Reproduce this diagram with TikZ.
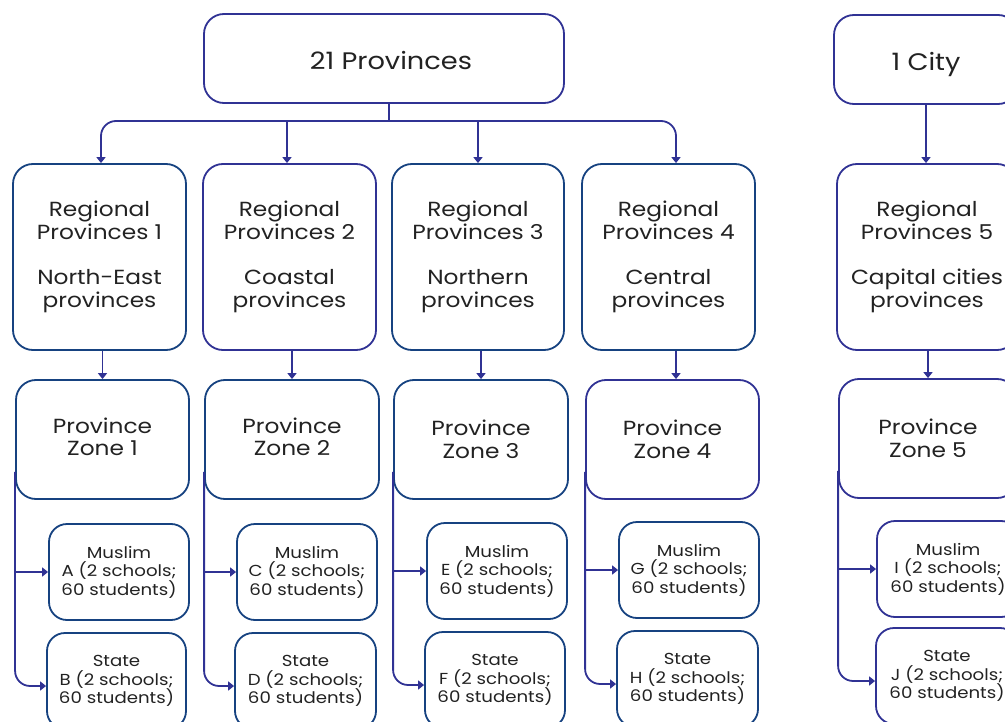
\documentclass[tikz,border=0pt]{standalone}
\usepackage{fontspec}
\setmainfont{Poppins}[FakeStretch=1.14]
\usetikzlibrary{arrows.meta}
\definecolor{navy}{RGB}{22,66,128}
\definecolor{indig}{RGB}{48,50,148}
\definecolor{txt}{RGB}{34,34,34}
\begin{document}
\begin{tikzpicture}[x=1bp,y=-1bp,
  box/.style={draw=navy, line width=1.8bp, rounded corners=20bp, align=center, text=txt, inner sep=0pt},
  pbox/.style={box, draw=indig},
  big/.style={font=\fontsize{24}{28}\selectfont},
  mid/.style={font=\fontsize{20.5}{23}\selectfont},
  small/.style={font=\fontsize{16}{18.5}\selectfont, rounded corners=18bp},
  conn/.style={draw=indig, line width=1.8bp},
  arr/.style={conn, -{Triangle[length=6bp,width=9bp]}},
  elbow/.style={rounded corners=15bp}]
\useasboundingbox (0,0) rectangle (1005,722);
\clip (0,0) rectangle (1005,722);
% top level
\node[pbox, big, minimum width=360bp, minimum height=89bp, text height=22bp, text depth=0bp] (top) at (384,58.5) {\hspace{14bp}21 Provinces};
\node[pbox, big, minimum width=184bp, minimum height=89bp, text height=22bp, text depth=0bp] (city) at (926,59.5) {1 City};
% regional
\node[box, mid, minimum width=173bp, minimum height=186bp] (r1) at (99.5,257) {Regional\\Provinces 1\\[22bp]North-East\\provinces};
\node[pbox, mid, minimum width=173bp, minimum height=186bp] (r2) at (289.5,257) {Regional\\Provinces 2\\[22bp]Coastal\\provinces};
\node[box, mid, minimum width=172bp, minimum height=186bp] (r3) at (478,257) {Regional\\Provinces 3\\[22bp]Northern\\provinces};
\node[box, mid, minimum width=173bp, minimum height=186bp] (r4) at (668.5,257) {Regional\\Provinces 4\\[22bp]Central\\provinces};
\node[pbox, mid, minimum width=180bp, minimum height=186bp] (r5) at (927,257) {Regional\\Provinces 5\\[22bp]Capital cities\\provinces};
% zones
\node[box, mid, minimum width=173bp, minimum height=119bp] (z1) at (102.5,439.5) {\raisebox{2bp}{\begin{tabular}{@{}c@{}}Province\\[-1bp]Zone 1\end{tabular}}};
\node[box, mid, minimum width=174bp, minimum height=119bp] (z2) at (292,439.5) {\raisebox{2bp}{\begin{tabular}{@{}c@{}}Province\\[-1bp]Zone 2\end{tabular}}};
\node[box, mid, minimum width=174bp, minimum height=119bp] (z3) at (481,439.5) {Province\\Zone 3};
\node[pbox, mid, minimum width=173bp, minimum height=119bp] (z4) at (672.5,439.5) {Province\\Zone 4};
\node[pbox, mid, minimum width=178bp, minimum height=119bp] (z5) at (928,438.5) {Province\\Zone 5};
% schools
\node[box, small, minimum width=140bp, minimum height=96bp] (mA) at (119,572) {Muslim\\A (2 schools;\\60 students)};
\node[box, small, minimum width=140bp, minimum height=96bp] (mC) at (307,572) {Muslim\\C (2 schools;\\60 students)};
\node[box, small, minimum width=140bp, minimum height=96bp] (mE) at (497,571) {Muslim\\E (2 schools;\\60 students)};
\node[box, small, minimum width=140bp, minimum height=96bp] (mG) at (689,570) {Muslim\\G (2 schools;\\60 students)};
\node[pbox, small, minimum width=142bp, minimum height=96bp] (mI) at (948,569) {Muslim\\I (2 schools;\\60 students)};
\node[box, small, minimum width=139bp, minimum height=96bp] (sB) at (116.5,681) {State\\B (2 schools;\\60 students)};
\node[box, small, minimum width=141bp, minimum height=96bp] (sD) at (305.5,681) {State\\D (2 schools;\\60 students)};
\node[box, small, minimum width=140bp, minimum height=96bp] (sF) at (495,680) {State\\F (2 schools;\\60 students)};
\node[box, small, minimum width=141bp, minimum height=96bp] (sH) at (687.5,679) {State\\H (2 schools;\\60 students)};
\node[pbox, small, minimum width=142bp, minimum height=96bp] (sJ) at (947,676) {State\\J (2 schools;\\60 students)};
% top tree
\coordinate (bus) at (389,121);
\draw[conn] (top.south -| bus) -- (bus);
\draw[arr, elbow] (bus) -| ([xshift=1.5bp]r1.north);
\draw[arr, elbow] (bus) -| ([xshift=7.5bp]r4.north);
\draw[arr] ([xshift=-2.5bp]r2.north |- bus) -- ([xshift=-2.5bp]r2.north);
\draw[arr] (r3.north |- bus) -- (r3.north);
\draw[arr] (city.south) -- (city.south |- r5.north);
% regional to zones
\draw[arr] (r1.south -| z1.north) -- (z1.north);
\draw[arr] (r2.south -| z2.north) -- (z2.north);
\draw[arr] (r3.south -| z3.north) -- (z3.north);
\draw[arr] ([xshift=3.5bp]r4.south -| z4.north) -- ([xshift=3.5bp]z4.north);
\draw[arr] (r5.south -| z5.north) -- (z5.north);
% zones to schools
\foreach \z/\m/\s in {z1/mA/sB, z2/mC/sD, z3/mE/sF, z4/mG/sH, z5/mI/sJ}{
  \draw[arr, elbow] ([yshift=28bp]\z.south west) |- ([yshift=-5bp]\s.west);
  \draw[arr] (\z.west |- \m.west) -- (\m.west);
}
\end{tikzpicture}
\end{document}
